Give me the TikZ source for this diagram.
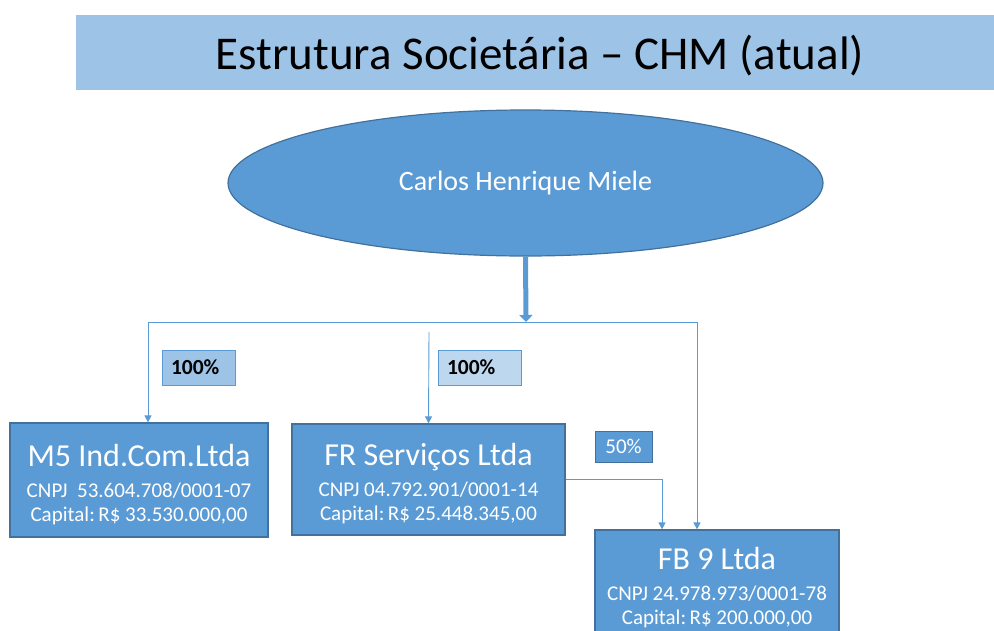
\documentclass[tikz,border=0pt]{standalone}
\usepackage{fontspec}
\setmainfont{Carlito}
\usetikzlibrary{shapes.geometric, arrows.meta, positioning, calc}

\definecolor{chmblue}{HTML}{5B9BD5}
\definecolor{chmedge}{HTML}{41719C}
\definecolor{chmlight}{HTML}{9DC3E6}
\definecolor{chmpale}{HTML}{BDD7EE}

\tikzset{
  company/.style={rectangle, draw=chmedge, fill=chmblue, line width=1.2pt, text=white, align=center,
    minimum height=114pt, inner sep=0pt, font=\fontsize{21}{24}\selectfont},
  share/.style={rectangle, draw=chmblue, line width=1pt, minimum height=35pt, inner xsep=9pt,
    align=left, font=\bfseries\fontsize{21.5}{23}\selectfont},
  link/.style={draw=chmblue, line width=0.9pt, -{Triangle[width=7pt,length=7pt]}},
}
\newcommand{\firm}[1]{{\fontsize{32}{34}\selectfont\rule{0pt}{31pt}#1}\\[7pt]}

\begin{document}
\begin{tikzpicture}[x=1pt, y=-1pt]
        \useasboundingbox (0,0) rectangle (994,630);
        \clip (0,0) rectangle (994,630);

        \node[fill=chmlight, minimum width=918pt, minimum height=75pt, inner sep=0pt, text depth=0pt,
          font=\fontsize{47}{50}\selectfont] (title) at (535,52.5) {\hspace{10pt}Estrutura Societária – CHM (atual)};
        \node[ellipse, draw=chmedge, fill=chmblue, line width=1.2pt, minimum width=595pt, minimum height=146pt,
          text=white, font=\fontsize{28}{30}\selectfont] (chm) at (525.5,183) {Carlos Henrique Miele};

        \coordinate (hub) at (526,322);
        \coordinate (frin) at (429,332);

        \node[company, minimum width=258pt] (m5) at (139,480)
          {\firm{M5 Ind.Com.Ltda}CNPJ\ \ 53.604.708/0001-07\\Capital:\,R\$ 33.530.000,00};
        \node[company, minimum width=273pt, minimum height=111pt] (fr) at (428.5,479.5)
          {\firm{FR Serviços Ltda}CNPJ 04.792.901/0001-14\\Capital:\,R\$ 25.448.345,00};
        \node[company, minimum width=244pt, minimum height=106pt] (fb9) at (717,583)
          {\firm{FB 9 Ltda}CNPJ 24.978.973/0001-78\\Capital:\,R\$ 200.000,00};

        \node[share, fill=chmlight, text width=55pt] (p1) at (198.5,367.5) {100\%};
        \node[share, fill=chmpale, text width=65pt] (p2) at (479.5,367.5) {100\%};
        \node[share, draw=chmedge, fill=chmblue, text=white, font=\fontsize{21}{23}\selectfont,
          minimum height=31pt, inner xsep=0pt, text width=57pt, align=center] (p3) at (623.5,446.5) {50\%};

        \draw[line width=5pt, chmblue, -{Triangle[width=13pt,length=7pt]}] (chm.south) -- (hub);
        \draw[link] (hub) -| ([xshift=9pt]m5.north);
        \draw[link] (hub) -| ([xshift=-20pt]fb9.north);
        \draw[link] (frin) -- (fr.north);
        \draw[link] (fr.east) -| ([xshift=-55pt]fb9.north);
    \end{tikzpicture}
\end{document}
